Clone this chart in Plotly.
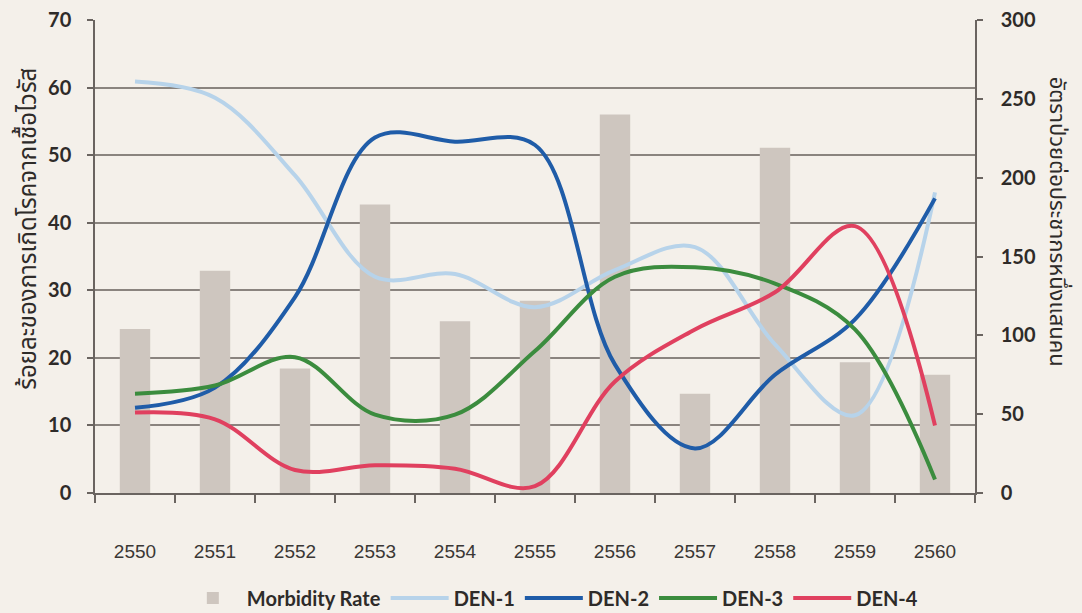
import plotly.graph_objects as go

years = ["2550", "2551", "2552", "2553", "2554", "2555", "2556", "2557", "2558", "2559", "2560"]
morbidity_rate = [104, 141, 79, 183, 109, 122, 240, 63, 219, 83, 75]
den1 = [60.9, 58.5, 47.0, 32.0, 32.4, 27.5, 33.0, 36.4, 22.0, 11.5, 44.5]
den2 = [12.6, 15.6, 29.0, 52.6, 52.0, 51.5, 19.0, 6.6, 17.5, 25.7, 43.6]
den3 = [14.7, 15.9, 20.1, 11.6, 11.6, 21.0, 32.0, 33.4, 31.0, 24.2, 2.0]
den4 = [11.9, 10.9, 3.4, 4.1, 3.6, 1.0, 16.5, 24.2, 29.7, 39.5, 10.0]

left_title = "ร้อยละของการเกิดโรคจากเชื้อไวรัส"
right_title = "อัตราป่วยต่อประชากรหนึ่งแสนคน"

BG = "#f4f0ea"
GRID = "#8a847f"
AXIS = "#6a6460"
TXT = "#2e2b29"
NUMFONT = "Lato, 'Open Sans', sans-serif"
THAI = "'Noto Sans Thai', 'Noto Sans Thai UI', 'Noto Sans', 'DejaVu Sans', sans-serif"

fig = go.Figure()
fig.add_trace(go.Bar(x=years, y=morbidity_rate, name="Morbidity Rate",
                     marker=dict(color="#cec6bf", line=dict(width=0)),
                     width=0.38, yaxis="y"))
series = [("DEN-1", den1, "#b7d3ea"), ("DEN-2", den2, "#1f5ca8"),
          ("DEN-3", den3, "#3b8c3e"), ("DEN-4", den4, "#e0405f")]
for name, vals, col in series:
    fig.add_trace(go.Scatter(x=years, y=vals, name=name, mode="lines",
                             line=dict(color=col, width=4, shape="spline", smoothing=1.0),
                             yaxis="y2"))

fig.update_layout(
    width=1082, height=613,
    margin=dict(l=95, r=107, t=20, b=120, autoexpand=False),
    paper_bgcolor=BG, plot_bgcolor=BG,
    showlegend=True,
    legend=dict(orientation="h", x=0.518, xanchor="center", y=-0.222, yanchor="middle",
                font=dict(family=NUMFONT, size=20, color=TXT, weight="bold"),
                bgcolor="rgba(0,0,0,0)", itemwidth=58, tracegroupgap=0),
    xaxis=dict(type="category", showgrid=False, showline=True, linecolor=AXIS, linewidth=1.5,
               ticks="outside", tickson="boundaries", ticklen=8, tickcolor=AXIS, tickwidth=1.5,
               ticklabelstandoff=40, automargin=False,
               tickfont=dict(family="'Liberation Sans Narrow', 'Liberation Sans', Arial, sans-serif",
                             size=19, color="#3a3735")),
    yaxis=dict(side="right", range=[0, 300], dtick=50, showgrid=False, zeroline=False,
               showline=True, linecolor=AXIS, linewidth=1.5, automargin=False,
               ticks="outside", ticklen=6, tickcolor=AXIS, tickwidth=1.5, ticklabelstandoff=14,
               tickfont=dict(family=NUMFONT, size=20, color=TXT, weight="bold")),
    yaxis2=dict(side="left", overlaying="y", range=[0, 70], dtick=10, showgrid=True,
                gridcolor=GRID, gridwidth=1.5, zeroline=False, automargin=False,
                showline=True, linecolor=AXIS, linewidth=1.5,
                ticks="outside", ticklen=6, tickcolor=AXIS, tickwidth=1.5, ticklabelstandoff=12,
                tickfont=dict(family=NUMFONT, size=20, color=TXT, weight="bold")),
    annotations=[
        dict(text=left_title, textangle=-90, xref="paper", yref="paper", x=-0.076, y=0.559,
             xanchor="center", yanchor="middle", showarrow=False,
             font=dict(family=THAI, size=24, color=TXT)),
        dict(text=right_title, textangle=90, xref="paper", yref="paper", x=1.093, y=0.574,
             xanchor="center", yanchor="middle", showarrow=False,
             font=dict(family=THAI, size=22, color=TXT)),
    ],
)

fig.write_html("out.html", config={"displayModeBar": False},
               post_script="document.body.style.margin='0';document.body.style.background='#f4f0ea';")
